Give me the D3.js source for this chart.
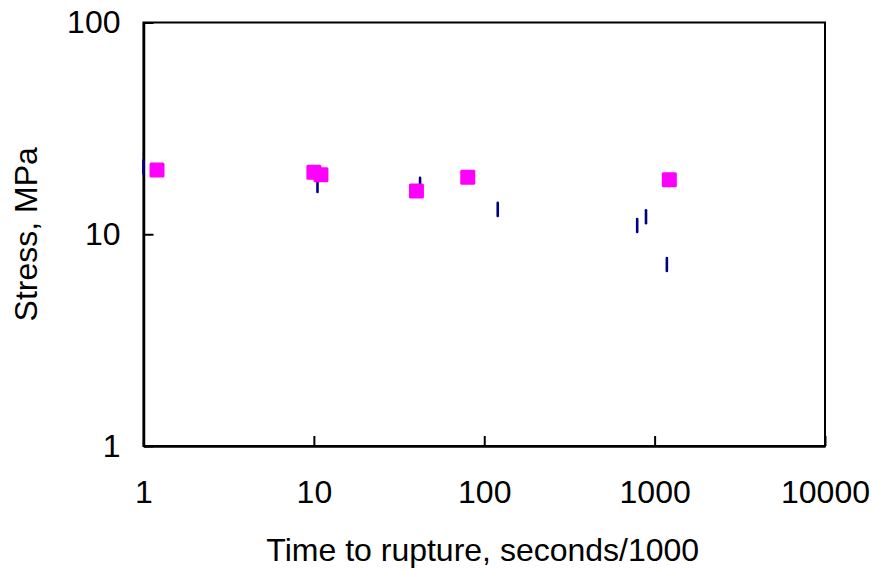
<!DOCTYPE html>
<html>
<head>
<meta charset="utf-8">
<script src="https://cdn.jsdelivr.net/npm/d3@7"></script>
<style>
  body { margin: 0; background: #fff; }
  text { font-family: "Liberation Sans", Arial, sans-serif; fill: #000; }
</style>
</head>
<body>
<div id="chart"></div>
<script>
// dữ liệu
const squareTime = [1.2, 10, 11, 40, 80, 1220];
const squareStress = [20.1, 19.6, 19.1, 16.0, 18.6, 18.1];
const dashTime = [1.0, 10.5, 42, 120, 790, 890, 1180];
const dashStress = [20.8, 17.0, 17.2, 13.1, 11.0, 12.1, 7.2];
const xTicks = [1, 10, 100, 1000, 10000];
const yTicks = [1, 10, 100];

const squares = squareTime.map((t, i) => ({ t, s: squareStress[i] }));
const dashes = dashTime.map((t, i) => ({ t, s: dashStress[i] }));

const svg = d3.select("#chart").append("svg")
    .attr("width", 872)
    .attr("height", 571);

const margin = { top: 22.5, right: 47, bottom: 125, left: 143.5 };
const width = 872 - margin.left - margin.right;
const height = 571 - margin.top - margin.bottom;
const fontSize = "32px";

const chart = svg.append("g")
    .attr("transform", `translate(${margin.left},${margin.top})`);

const x = d3.scaleLog().domain([1, 10000]).range([0, width]);
const y = d3.scaleLog().domain([1, 100]).range([height, 0]);

// khung
chart.append("rect")
    .attr("width", width)
    .attr("height", height)
    .attr("fill", "none")
    .attr("stroke", "#000")
    .attr("stroke-width", 2);

// trục x (tick vào trong)
const xAxis = chart.append("g")
    .attr("transform", `translate(0,${height})`)
    .call(d3.axisBottom(x).tickValues(xTicks).tickSizeInner(-10).tickSizeOuter(0).tickFormat(d3.format("d")));
xAxis.select(".domain").attr("stroke-width", 2.5);
xAxis.selectAll(".tick line").attr("stroke-width", 2);
xAxis.selectAll(".tick text")
    .attr("y", 57)
    .attr("dy", null)
    .style("font-size", fontSize);

// trục y
const yAxis = chart.append("g")
    .call(d3.axisLeft(y).tickValues(yTicks).tickSizeInner(-10).tickSizeOuter(0).tickFormat(d3.format("d")));
yAxis.select(".domain").attr("stroke-width", 2.5);
yAxis.selectAll(".tick line").attr("stroke-width", 2);
yAxis.selectAll(".tick text")
    .attr("x", -23)
    .style("font-size", fontSize);

// vạch dọc màu xanh
chart.selectAll("line.dash")
    .data(dashes)
    .enter()
    .append("line")
    .attr("class", "dash")
    .attr("x1", d => x(d.t))
    .attr("x2", d => x(d.t))
    .attr("y1", d => y(d.s) - 6.5)
    .attr("y2", d => y(d.s) + 6.5)
    .attr("stroke", "#000080")
    .attr("stroke-width", 2.6)
    .attr("stroke-linecap", "round");

// ô vuông hồng
chart.selectAll("rect.sq")
    .data(squares)
    .enter()
    .append("rect")
    .attr("class", "sq")
    .attr("x", d => x(d.t) - 7.5)
    .attr("y", d => y(d.s) - 7.5)
    .attr("width", 15)
    .attr("height", 15)
    .attr("rx", 1.5)
    .attr("fill", "#FF00FF");

// nhãn trục x
svg.append("text")
    .attr("x", margin.left + width / 2 - 1.5)
    .attr("y", 561)
    .attr("text-anchor", "middle")
    .style("font-size", fontSize)
    .text("Time to rupture, seconds/1000");

// nhãn trục y
svg.append("text")
    .attr("transform", "rotate(-90)")
    .attr("x", -(margin.top + height / 2))
    .attr("y", 37)
    .attr("text-anchor", "middle")
    .style("font-size", fontSize)
    .text("Stress, MPa");
</script>
</body>
</html>
